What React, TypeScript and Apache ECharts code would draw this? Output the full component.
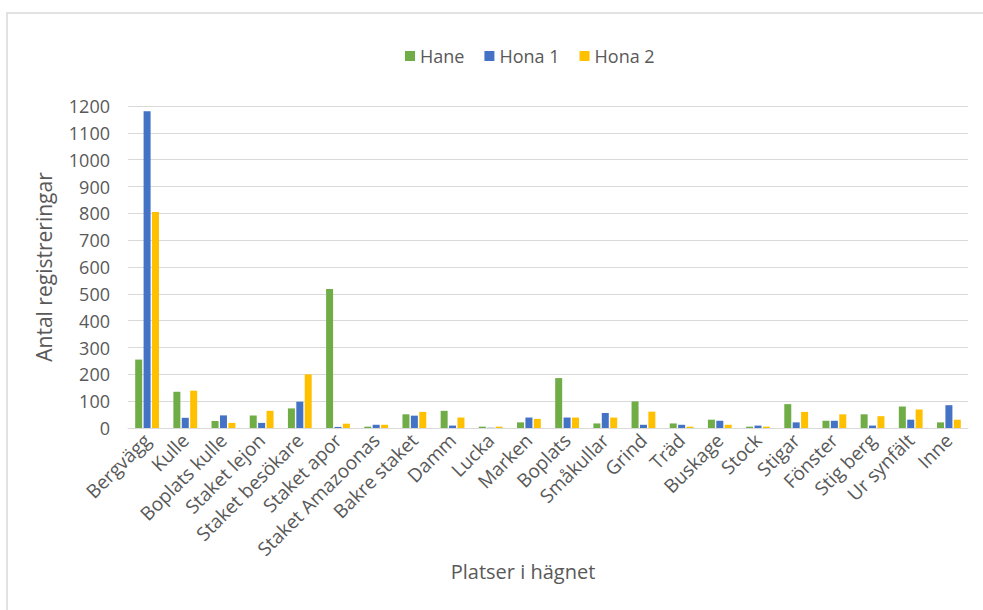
import React, { useEffect, useRef } from "react";
import * as echarts from "echarts";

// Places in the enclosure
const platser = [
  "Bergvägg", "Kulle", "Boplats kulle", "Staket lejon", "Staket besökare",
  "Staket apor", "Staket Amazoonas", "Bakre staket", "Damm", "Lucka",
  "Marken", "Boplats", "Småkullar", "Grind", "Träd", "Buskage", "Stock",
  "Stigar", "Fönster", "Stig berg", "Ur synfält", "Inne",
];

// Number of registrations per individual
const hane = [255, 135, 26, 47, 73, 518, 5, 51, 64, 5, 21, 186, 17, 99, 17, 31, 5, 89, 27, 51, 80, 21];
const hona1 = [1180, 38, 47, 19, 98, 4, 12, 46, 9, 1, 39, 39, 56, 12, 12, 27, 9, 21, 27, 9, 31, 85];
const hona2 = [805, 139, 19, 64, 200, 16, 12, 60, 39, 5, 34, 39, 39, 61, 5, 12, 5, 60, 51, 44, 69, 31];

const FONT = "'Open Sans', 'Noto Sans', sans-serif";
const TEXT = "#595959";

export default function App() {
  const ref = useRef<HTMLDivElement>(null);

  useEffect(() => {
    if (!ref.current) return;
    const chart = echarts.init(ref.current, undefined, { renderer: "svg" });
    const bar = (name: string, data: number[], color: string) => ({
      name,
      type: "bar",
      data,
      barWidth: 7,
      barGap: "20%",
      itemStyle: { color },
    });
    chart.setOption({
      animation: false,
      backgroundColor: "#ffffff",
      textStyle: { fontFamily: FONT, color: TEXT },
      graphic: [
        {
          type: "rect",
          shape: { x: 7, y: 13, width: 1000, height: 640 },
          style: { fill: "none", stroke: "#d9d9d9", lineWidth: 1.5 },
          silent: true,
        },
        {
          type: "text",
          x: 523,
          y: 571,
          style: {
            text: "Platser i hägnet",
            fontFamily: FONT,
            fontSize: 20,
            fill: TEXT,
            align: "center",
            verticalAlign: "middle",
          },
          silent: true,
        },
      ],
      legend: {
        top: 42,
        left: 400,
        itemWidth: 10,
        itemHeight: 10,
        itemGap: 20,
        icon: "rect",
        textStyle: { fontFamily: FONT, fontSize: 18, color: TEXT },
        data: ["Hane", "Hona 1", "Hona 2"],
      },
      grid: { left: 128, right: 15, top: 106, bottom: 182 },
      xAxis: {
        type: "category",
        data: platser,
        axisLine: { lineStyle: { color: "#d9d9d9", width: 1 } },
        axisTick: { show: false },
        axisLabel: {
          interval: 0,
          rotate: 45,
          margin: 9,
          fontFamily: FONT,
          fontSize: 19,
          color: TEXT,
        },
      },
      yAxis: {
        type: "value",
        min: 0,
        max: 1200,
        interval: 100,
        name: "Antal registreringar",
        nameLocation: "middle",
        nameGap: 74,
        nameTextStyle: { fontFamily: FONT, fontSize: 21, color: TEXT },
        axisLine: { show: false },
        axisTick: { show: false },
        axisLabel: {
          margin: 18,
          fontFamily: FONT,
          fontSize: 18,
          color: TEXT,
          formatter: (v: number) => String(v),
        },
        splitLine: { lineStyle: { color: "#d9d9d9", width: 1 } },
      },
      series: [
        bar("Hane", hane, "#70AD47"),
        bar("Hona 1", hona1, "#4472C4"),
        bar("Hona 2", hona2, "#FFC000"),
      ],
    });
    return () => chart.dispose();
  }, []);

  return (
    <div
      ref={ref}
      style={{ position: "fixed", left: 0, top: 0, width: 983, height: 610 }}
    />
  );
}
